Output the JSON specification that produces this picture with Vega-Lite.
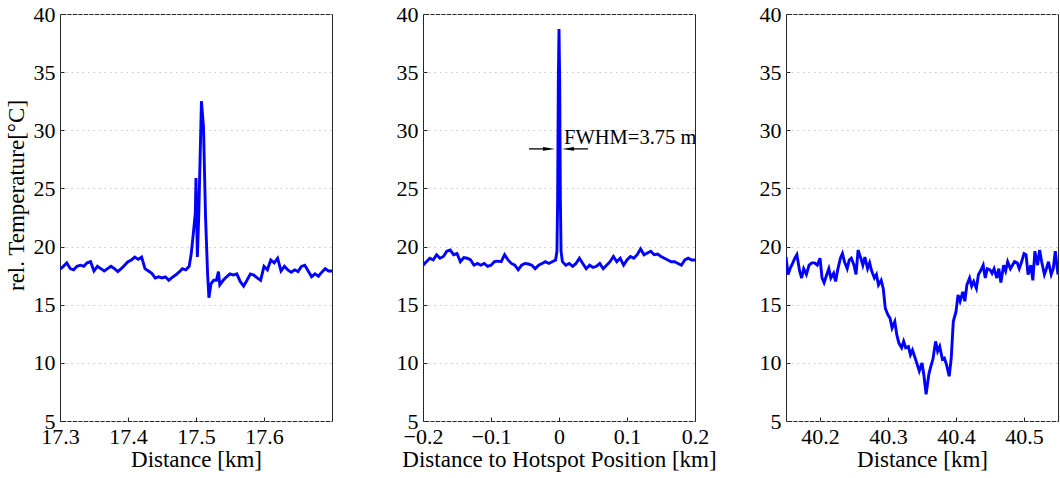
{
  "$schema": "https://vega.github.io/schema/vega-lite/v6.json",
  "background": "white",
  "padding": {"left": 4, "top": 2, "right": 0, "bottom": 0},
  "config": {
    "font": "Liberation Serif",
    "view": {"stroke": "#262626", "strokeWidth": 1},
    "axis": {
      "labelFont": "Liberation Serif",
      "titleFont": "Liberation Serif",
      "labelFontSize": 22,
      "titleFontSize": 23,
      "labelColor": "black",
      "titleColor": "black",
      "titleFontWeight": "normal",
      "domain": false,
      "tickColor": "#262626",
      "tickSize": -4,
      "labelFlush": false,
      "labelOverlap": false
    },
    "axisY": {
      "grid": true,
      "gridColor": "#c8c8c8",
      "gridDash": [1.5, 4],
      "gridWidth": 1,
      "labelPadding": 9,
      "titlePadding": 5
    },
    "axisX": {"grid": false, "labelPadding": 9, "titlePadding": 1}
  },
  "datasets": {
    "p1": [
      {"d": 17.300, "t": 18.05}, {"d": 17.305, "t": 18.3}, {"d": 17.310, "t": 18.6}, {"d": 17.315, "t": 18.1},
      {"d": 17.320, "t": 18.0}, {"d": 17.325, "t": 18.3}, {"d": 17.330, "t": 18.4}, {"d": 17.335, "t": 18.3},
      {"d": 17.340, "t": 18.6}, {"d": 17.345, "t": 18.7}, {"d": 17.350, "t": 17.9}, {"d": 17.355, "t": 18.3},
      {"d": 17.360, "t": 18.1}, {"d": 17.365, "t": 17.9}, {"d": 17.370, "t": 18.1}, {"d": 17.375, "t": 18.3},
      {"d": 17.380, "t": 18.1}, {"d": 17.385, "t": 17.85}, {"d": 17.390, "t": 18.1}, {"d": 17.395, "t": 18.4},
      {"d": 17.400, "t": 18.7}, {"d": 17.405, "t": 18.85}, {"d": 17.410, "t": 19.1}, {"d": 17.415, "t": 18.9},
      {"d": 17.420, "t": 19.1}, {"d": 17.425, "t": 18.1}, {"d": 17.430, "t": 17.9}, {"d": 17.435, "t": 17.7},
      {"d": 17.440, "t": 17.3}, {"d": 17.445, "t": 17.4}, {"d": 17.450, "t": 17.3}, {"d": 17.455, "t": 17.4},
      {"d": 17.460, "t": 17.1}, {"d": 17.465, "t": 17.35}, {"d": 17.470, "t": 17.55}, {"d": 17.475, "t": 17.8},
      {"d": 17.480, "t": 18.1}, {"d": 17.485, "t": 18.0}, {"d": 17.490, "t": 18.3}, {"d": 17.493, "t": 19.4},
      {"d": 17.496, "t": 21.1}, {"d": 17.499, "t": 22.9}, {"d": 17.500, "t": 25.9}, {"d": 17.502, "t": 19.1},
      {"d": 17.504, "t": 22.6}, {"d": 17.508, "t": 32.5}, {"d": 17.511, "t": 30.3}, {"d": 17.514, "t": 22.6},
      {"d": 17.517, "t": 17.7}, {"d": 17.519, "t": 15.6}, {"d": 17.522, "t": 16.8}, {"d": 17.526, "t": 17.1},
      {"d": 17.530, "t": 17.1}, {"d": 17.533, "t": 17.85}, {"d": 17.535, "t": 16.7}, {"d": 17.540, "t": 17.1},
      {"d": 17.545, "t": 17.4}, {"d": 17.550, "t": 17.65}, {"d": 17.555, "t": 17.55}, {"d": 17.560, "t": 17.65},
      {"d": 17.565, "t": 17.0}, {"d": 17.570, "t": 16.6}, {"d": 17.575, "t": 17.1}, {"d": 17.580, "t": 17.65},
      {"d": 17.585, "t": 17.55}, {"d": 17.590, "t": 17.3}, {"d": 17.595, "t": 17.1}, {"d": 17.600, "t": 18.3},
      {"d": 17.605, "t": 18.0}, {"d": 17.610, "t": 18.85}, {"d": 17.615, "t": 18.6}, {"d": 17.620, "t": 19.0},
      {"d": 17.625, "t": 17.9}, {"d": 17.630, "t": 18.3}, {"d": 17.635, "t": 18.0}, {"d": 17.640, "t": 17.8},
      {"d": 17.645, "t": 18.0}, {"d": 17.650, "t": 17.85}, {"d": 17.655, "t": 18.3}, {"d": 17.660, "t": 18.4},
      {"d": 17.665, "t": 17.9}, {"d": 17.670, "t": 17.4}, {"d": 17.675, "t": 17.65}, {"d": 17.680, "t": 17.45},
      {"d": 17.685, "t": 17.8}, {"d": 17.690, "t": 18.1}, {"d": 17.695, "t": 17.9}, {"d": 17.700, "t": 17.9}
    ],
    "p2": [
      {"d": -0.200, "t": 18.4}, {"d": -0.195, "t": 18.7}, {"d": -0.190, "t": 19.0}, {"d": -0.185, "t": 18.85},
      {"d": -0.180, "t": 19.3}, {"d": -0.175, "t": 19.0}, {"d": -0.170, "t": 19.15}, {"d": -0.165, "t": 19.6},
      {"d": -0.160, "t": 19.7}, {"d": -0.155, "t": 19.3}, {"d": -0.150, "t": 19.4}, {"d": -0.145, "t": 18.7},
      {"d": -0.140, "t": 19.05}, {"d": -0.135, "t": 19.0}, {"d": -0.130, "t": 18.85}, {"d": -0.125, "t": 18.4},
      {"d": -0.120, "t": 18.55}, {"d": -0.115, "t": 18.4}, {"d": -0.110, "t": 18.55}, {"d": -0.105, "t": 18.3},
      {"d": -0.100, "t": 18.4}, {"d": -0.095, "t": 18.7}, {"d": -0.090, "t": 18.75}, {"d": -0.085, "t": 18.7},
      {"d": -0.080, "t": 19.3}, {"d": -0.075, "t": 18.85}, {"d": -0.070, "t": 18.55}, {"d": -0.065, "t": 18.4},
      {"d": -0.060, "t": 18.0}, {"d": -0.055, "t": 18.4}, {"d": -0.050, "t": 18.55}, {"d": -0.045, "t": 18.5},
      {"d": -0.040, "t": 18.4}, {"d": -0.035, "t": 18.1}, {"d": -0.030, "t": 18.4}, {"d": -0.025, "t": 18.55},
      {"d": -0.020, "t": 18.7}, {"d": -0.015, "t": 18.55}, {"d": -0.010, "t": 18.7}, {"d": -0.005, "t": 18.85},
      {"d": -0.003, "t": 19.6}, {"d": -0.002, "t": 24.1}, {"d": -0.001, "t": 34.2}, {"d": 0.000, "t": 38.7},
      {"d": 0.001, "t": 34.2}, {"d": 0.002, "t": 24.1}, {"d": 0.003, "t": 19.6}, {"d": 0.005, "t": 18.7},
      {"d": 0.010, "t": 18.4}, {"d": 0.015, "t": 18.55}, {"d": 0.020, "t": 18.3}, {"d": 0.025, "t": 18.55},
      {"d": 0.030, "t": 19.0}, {"d": 0.035, "t": 18.55}, {"d": 0.040, "t": 18.1}, {"d": 0.045, "t": 18.4},
      {"d": 0.050, "t": 18.2}, {"d": 0.055, "t": 18.3}, {"d": 0.060, "t": 18.55}, {"d": 0.065, "t": 18.1},
      {"d": 0.070, "t": 18.4}, {"d": 0.075, "t": 18.7}, {"d": 0.080, "t": 19.15}, {"d": 0.085, "t": 18.7},
      {"d": 0.090, "t": 19.0}, {"d": 0.095, "t": 18.4}, {"d": 0.100, "t": 18.85}, {"d": 0.105, "t": 19.15},
      {"d": 0.110, "t": 19.0}, {"d": 0.115, "t": 19.3}, {"d": 0.120, "t": 19.8}, {"d": 0.125, "t": 19.3},
      {"d": 0.130, "t": 19.45}, {"d": 0.135, "t": 19.6}, {"d": 0.140, "t": 19.3}, {"d": 0.145, "t": 19.35},
      {"d": 0.150, "t": 19.15}, {"d": 0.155, "t": 19.0}, {"d": 0.160, "t": 18.85}, {"d": 0.165, "t": 18.7},
      {"d": 0.170, "t": 18.7}, {"d": 0.175, "t": 18.55}, {"d": 0.180, "t": 18.4}, {"d": 0.185, "t": 18.85},
      {"d": 0.190, "t": 19.0}, {"d": 0.195, "t": 18.85}, {"d": 0.200, "t": 18.85}
    ],
    "p3": [
      {"d": 40.150, "t": 19.1}, {"d": 40.153, "t": 17.6}, {"d": 40.156, "t": 18.1}, {"d": 40.160, "t": 18.6},
      {"d": 40.163, "t": 19.0}, {"d": 40.166, "t": 19.3}, {"d": 40.170, "t": 17.9}, {"d": 40.173, "t": 17.3},
      {"d": 40.176, "t": 18.1}, {"d": 40.180, "t": 17.6}, {"d": 40.184, "t": 18.4}, {"d": 40.188, "t": 18.6},
      {"d": 40.192, "t": 18.6}, {"d": 40.196, "t": 18.4}, {"d": 40.200, "t": 19.0}, {"d": 40.203, "t": 17.3},
      {"d": 40.206, "t": 16.9}, {"d": 40.210, "t": 17.6}, {"d": 40.213, "t": 18.1}, {"d": 40.216, "t": 17.3},
      {"d": 40.220, "t": 17.7}, {"d": 40.223, "t": 17.0}, {"d": 40.226, "t": 18.0}, {"d": 40.230, "t": 19.0},
      {"d": 40.233, "t": 19.4}, {"d": 40.236, "t": 18.7}, {"d": 40.240, "t": 18.1}, {"d": 40.243, "t": 18.85},
      {"d": 40.246, "t": 19.0}, {"d": 40.250, "t": 18.4}, {"d": 40.253, "t": 17.6}, {"d": 40.256, "t": 19.7},
      {"d": 40.260, "t": 19.0}, {"d": 40.263, "t": 18.4}, {"d": 40.266, "t": 19.1}, {"d": 40.270, "t": 18.1},
      {"d": 40.273, "t": 18.6}, {"d": 40.276, "t": 17.9}, {"d": 40.280, "t": 17.3}, {"d": 40.283, "t": 17.6},
      {"d": 40.286, "t": 16.7}, {"d": 40.290, "t": 17.1}, {"d": 40.293, "t": 16.4}, {"d": 40.296, "t": 14.7},
      {"d": 40.300, "t": 14.1}, {"d": 40.303, "t": 13.85}, {"d": 40.306, "t": 13.0}, {"d": 40.310, "t": 13.55},
      {"d": 40.313, "t": 12.4}, {"d": 40.316, "t": 11.7}, {"d": 40.320, "t": 11.3}, {"d": 40.323, "t": 11.85},
      {"d": 40.326, "t": 11.3}, {"d": 40.330, "t": 11.4}, {"d": 40.333, "t": 10.7}, {"d": 40.336, "t": 11.1},
      {"d": 40.340, "t": 10.4}, {"d": 40.343, "t": 9.85}, {"d": 40.346, "t": 9.3}, {"d": 40.350, "t": 10.0},
      {"d": 40.353, "t": 8.85}, {"d": 40.356, "t": 7.3}, {"d": 40.360, "t": 9.0}, {"d": 40.363, "t": 9.7},
      {"d": 40.366, "t": 10.3}, {"d": 40.370, "t": 11.85}, {"d": 40.373, "t": 11.0}, {"d": 40.376, "t": 11.4},
      {"d": 40.380, "t": 10.3}, {"d": 40.383, "t": 10.4}, {"d": 40.386, "t": 9.85}, {"d": 40.390, "t": 8.85},
      {"d": 40.393, "t": 10.4}, {"d": 40.396, "t": 13.55}, {"d": 40.400, "t": 14.4}, {"d": 40.403, "t": 15.85},
      {"d": 40.406, "t": 15.3}, {"d": 40.410, "t": 16.1}, {"d": 40.413, "t": 15.3}, {"d": 40.416, "t": 16.7},
      {"d": 40.420, "t": 17.3}, {"d": 40.423, "t": 16.6}, {"d": 40.426, "t": 17.0}, {"d": 40.430, "t": 16.4},
      {"d": 40.433, "t": 17.6}, {"d": 40.436, "t": 17.9}, {"d": 40.440, "t": 18.4}, {"d": 40.443, "t": 17.3},
      {"d": 40.446, "t": 18.1}, {"d": 40.450, "t": 18.0}, {"d": 40.453, "t": 17.7}, {"d": 40.456, "t": 18.1},
      {"d": 40.460, "t": 17.3}, {"d": 40.463, "t": 18.1}, {"d": 40.466, "t": 16.9}, {"d": 40.470, "t": 18.4},
      {"d": 40.473, "t": 17.9}, {"d": 40.476, "t": 18.7}, {"d": 40.480, "t": 18.1}, {"d": 40.483, "t": 18.4},
      {"d": 40.486, "t": 18.7}, {"d": 40.490, "t": 18.6}, {"d": 40.493, "t": 18.1}, {"d": 40.496, "t": 18.6},
      {"d": 40.500, "t": 19.4}, {"d": 40.503, "t": 19.3}, {"d": 40.506, "t": 17.6}, {"d": 40.510, "t": 18.4},
      {"d": 40.513, "t": 17.1}, {"d": 40.516, "t": 19.6}, {"d": 40.520, "t": 18.4}, {"d": 40.523, "t": 19.7},
      {"d": 40.526, "t": 18.7}, {"d": 40.530, "t": 17.6}, {"d": 40.533, "t": 18.1}, {"d": 40.536, "t": 18.7},
      {"d": 40.540, "t": 17.6}, {"d": 40.543, "t": 18.1}, {"d": 40.546, "t": 19.6}, {"d": 40.550, "t": 17.6}
    ],
    "arrows": [
      {"x": -0.0441, "x2": -0.0147, "t": 28.4, "dir": "right"},
      {"x": 0.0426, "x2": 0.0132, "t": 28.4, "dir": "left"}
    ],
    "label": [
      {"x": 0.0074, "t": 28.8, "text": "FWHM=3.75 m"}
    ]
  },
  "bounds": "flush",
  "spacing": 91,
  "hconcat": [
    {
      "width": 272,
      "height": 407,
      "data": {"name": "p1"},
      "mark": {"type": "line", "color": "#0000ff", "strokeWidth": 2.9, "clip": true},
      "encoding": {
        "x": {"field": "d", "type": "quantitative",
          "scale": {"domain": [17.3, 17.7], "nice": false, "zero": false},
          "axis": {"values": [17.3, 17.4, 17.5, 17.6], "format": ".1f", "title": "Distance [km]"}},
        "y": {"field": "t", "type": "quantitative",
          "scale": {"domain": [5, 40], "nice": false, "zero": false},
          "axis": {"values": [5, 10, 15, 20, 25, 30, 35, 40], "title": "rel. Temperature[°C]", "titleY": 181}}
      }
    },
    {
      "width": 272,
      "height": 407,
      "layer": [
        {
          "data": {"name": "p2"},
          "mark": {"type": "line", "color": "#0000ff", "strokeWidth": 2.9, "clip": true},
          "encoding": {
            "x": {"field": "d", "type": "quantitative",
              "scale": {"domain": [-0.2, 0.2], "nice": false, "zero": false},
              "axis": {"values": [-0.2, -0.1, 0, 0.1, 0.2], "format": ".1~f", "title": "Distance to Hotspot Position [km]"}},
            "y": {"field": "t", "type": "quantitative",
              "scale": {"domain": [5, 40], "nice": false, "zero": false},
              "axis": {"values": [5, 10, 15, 20, 25, 30, 35, 40], "title": null}}
          }
        },
        {
          "data": {"name": "arrows"},
          "mark": {"type": "rule", "color": "black", "strokeWidth": 1.3},
          "encoding": {
            "x": {"field": "x", "type": "quantitative"},
            "x2": {"field": "x2"},
            "y": {"field": "t", "type": "quantitative"}
          }
        },
        {
          "data": {"name": "arrows"},
          "transform": [{"filter": "datum.dir == 'right'"}],
          "mark": {"type": "point", "shape": "M-1,-0.33L1,0L-1,0.33Z", "size": 144, "filled": true, "color": "black", "opacity": 1},
          "encoding": {
            "x": {"field": "x2", "type": "quantitative"},
            "y": {"field": "t", "type": "quantitative"}
          }
        },
        {
          "data": {"name": "arrows"},
          "transform": [{"filter": "datum.dir == 'left'"}],
          "mark": {"type": "point", "shape": "M1,-0.33L-1,0L1,0.33Z", "size": 144, "filled": true, "color": "black", "opacity": 1},
          "encoding": {
            "x": {"field": "x2", "type": "quantitative"},
            "y": {"field": "t", "type": "quantitative"}
          }
        },
        {
          "data": {"name": "label"},
          "mark": {"type": "text", "font": "Liberation Serif", "fontSize": 20.5, "align": "left", "baseline": "alphabetic", "color": "black", "clip": true},
          "encoding": {
            "x": {"field": "x", "type": "quantitative"},
            "y": {"field": "t", "type": "quantitative"},
            "text": {"field": "text"}
          }
        }
      ]
    },
    {
      "width": 272,
      "height": 407,
      "data": {"name": "p3"},
      "mark": {"type": "line", "color": "#0000ff", "strokeWidth": 2.9, "clip": true},
      "encoding": {
        "x": {"field": "d", "type": "quantitative",
          "scale": {"domain": [40.15, 40.55], "nice": false, "zero": false},
          "axis": {"values": [40.2, 40.3, 40.4, 40.5], "format": ".1f", "title": "Distance [km]"}},
        "y": {"field": "t", "type": "quantitative",
          "scale": {"domain": [5, 40], "nice": false, "zero": false},
          "axis": {"values": [5, 10, 15, 20, 25, 30, 35, 40], "title": null}}
      }
    }
  ]
}
